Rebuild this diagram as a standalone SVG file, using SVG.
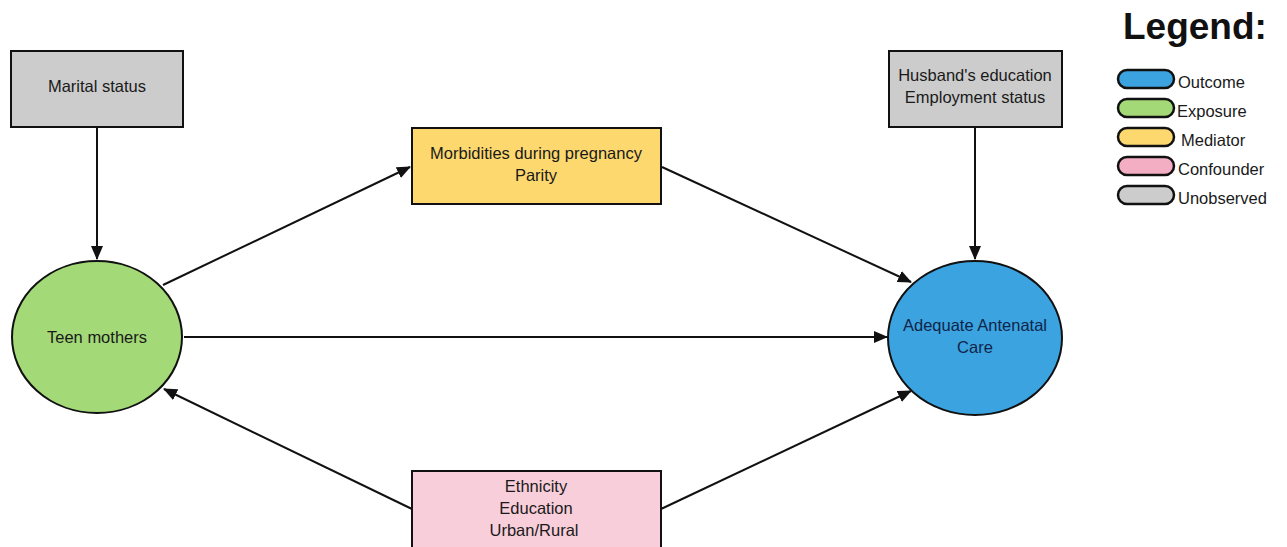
<svg xmlns="http://www.w3.org/2000/svg" width="1287" height="547" viewBox="0 0 1287 547">
<defs>
<style>
.n{stroke:#111;stroke-width:2}
.t{font-family:"Liberation Sans",Arial,sans-serif;font-size:16.5px;fill:#1a1a1a;text-anchor:middle}
.l{font-family:"Liberation Sans",Arial,sans-serif;font-size:16.5px;fill:#1a1a1a}
.c{stroke:#111;stroke-width:2;fill:none;marker-end:url(#ah)}
.p{stroke:#111;stroke-width:2.5}
</style>
<marker id="ah" markerWidth="14" markerHeight="12" refX="13" refY="6" orient="auto" markerUnits="userSpaceOnUse" viewBox="0 0 14 12">
<path d="M0,0 L14,6 L0,12 z" fill="#111"/>
</marker>
</defs>
<rect width="1287" height="547" fill="#fff"/>
<g id="connectors">
<line class="c" x1="97" y1="128" x2="97" y2="259"/>
<line class="c" x1="975" y1="128" x2="975" y2="259"/>
<line class="c" x1="163" y1="285" x2="410" y2="167"/>
<line class="c" x1="662" y1="167" x2="911" y2="282"/>
<line class="c" x1="184" y1="337" x2="887" y2="337"/>
<line class="c" x1="412" y1="509" x2="164" y2="389"/>
<line class="c" x1="661" y1="509" x2="911" y2="391"/>
</g>
<g id="marital">
<rect class="n" x="11" y="51" width="172" height="76" fill="#cccccc"/>
<text class="t" x="97" y="92">Marital status</text>
</g>
<g id="husband">
<rect class="n" x="889" y="51" width="173" height="76" fill="#cccccc"/>
<text class="t" x="975" y="81">Husband's education</text>
<text class="t" x="975" y="103">Employment status</text>
</g>
<g id="mediator">
<rect class="n" x="412" y="128" width="249" height="76" fill="#fdd86f"/>
<text class="t" x="536" y="159">Morbidities during pregnancy</text>
<text class="t" x="536" y="181">Parity</text>
</g>
<g id="teen">
<ellipse class="n" cx="97" cy="337" rx="85" ry="76" fill="#a3d977"/>
<text class="t" x="97" y="343">Teen mothers</text>
</g>
<g id="outcome">
<ellipse class="n" cx="975" cy="338" rx="87" ry="77" fill="#3ba3e0"/>
<text class="t" x="975" y="331" style="fill:#10254a">Adequate Antenatal</text>
<text class="t" x="975" y="353" style="fill:#10254a">Care</text>
</g>
<g id="confounder">
<rect class="n" x="412" y="471" width="249" height="90" fill="#f8cedb"/>
<text class="t" x="536" y="492">Ethnicity</text>
<text class="t" x="536" y="514">Education</text>
<text class="t" x="534" y="536">Urban/Rural</text>
</g>
<g id="legend">
<text x="1123" y="39" style="font-family:'Liberation Sans',Arial,sans-serif;font-size:37px;font-weight:bold;fill:#111">Legend:</text>
<rect class="p" x="1118" y="70" width="56" height="18" rx="9" fill="#3ba3e0"/>
<text class="l" x="1178" y="88">Outcome</text>
<rect class="p" x="1118" y="99" width="56" height="18" rx="9" fill="#a3d977"/>
<text class="l" x="1177" y="117">Exposure</text>
<rect class="p" x="1118" y="128" width="56" height="18" rx="9" fill="#fdd86f"/>
<text class="l" x="1181" y="146">Mediator</text>
<rect class="p" x="1118" y="157" width="56" height="18" rx="9" fill="#f4aec3"/>
<text class="l" x="1178" y="175">Confounder</text>
<rect class="p" x="1118" y="186" width="56" height="18" rx="9" fill="#cccccc"/>
<text class="l" x="1178" y="204">Unobserved</text>
</g>
</svg>
